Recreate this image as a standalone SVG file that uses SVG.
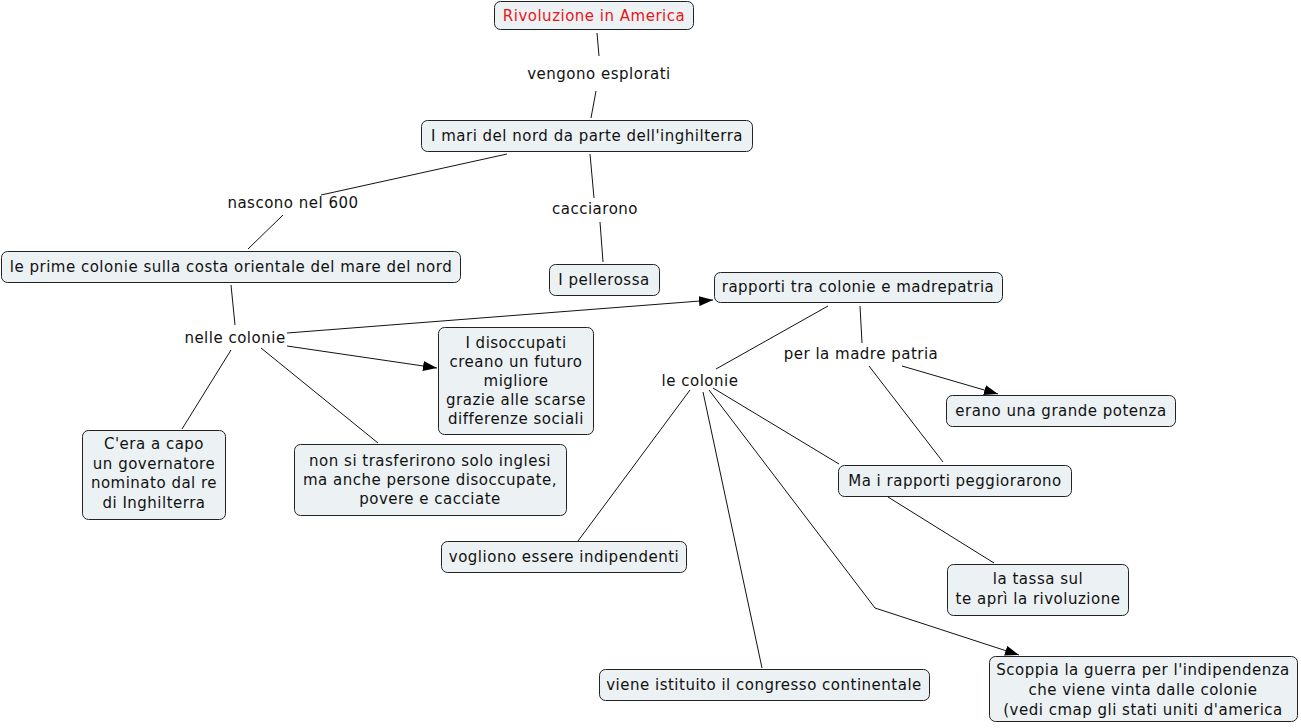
<svg xmlns="http://www.w3.org/2000/svg" width="1301" height="728" viewBox="0 0 1301 728">
<style>
.n rect{fill:#ECF2F4;stroke:#222;stroke-width:1}
text{font-family:"DejaVu Sans",Verdana,sans-serif;font-size:15px;letter-spacing:0.5px;fill:#111;text-anchor:middle}
.c line,.c polyline{stroke:#111;stroke-width:1;fill:none}
</style>
<defs>
<marker id="ah" viewBox="0 0 14 10" refX="14" refY="5" markerWidth="14" markerHeight="10" markerUnits="userSpaceOnUse" orient="auto">
<path d="M0,0 L14,5 L0,10 Z" fill="#000"/>
</marker>
</defs>
<rect width="1301" height="728" fill="#fff"/>
<g class="c" id="connectors">
<line x1="597" y1="33" x2="599" y2="56"/>
<line x1="596" y1="91" x2="591" y2="118"/>
<line x1="507" y1="154" x2="321" y2="195"/>
<line x1="283" y1="215" x2="248" y2="249"/>
<line x1="590" y1="154" x2="594" y2="198"/>
<line x1="600" y1="222" x2="603" y2="262"/>
<line x1="231" y1="285" x2="235" y2="325"/>
<line x1="287" y1="333" x2="713" y2="300" marker-end="url(#ah)"/>
<line x1="287" y1="346" x2="437" y2="368" marker-end="url(#ah)"/>
<line x1="231" y1="350" x2="182" y2="429"/>
<line x1="261" y1="348" x2="378" y2="443"/>
<line x1="828" y1="306" x2="716" y2="369"/>
<line x1="860" y1="306" x2="862" y2="343"/>
<line x1="902" y1="366" x2="998" y2="394" marker-end="url(#ah)"/>
<line x1="869" y1="366" x2="943" y2="462"/>
<line x1="690" y1="390" x2="578" y2="541"/>
<line x1="703" y1="392" x2="762" y2="668"/>
<polyline points="709,390 875,608 1019,655" marker-end="url(#ah)"/>
<line x1="713" y1="388" x2="839" y2="464"/>
<line x1="888" y1="497" x2="994" y2="563"/>
</g>
<g id="lbl-vengono"><text x="599" y="79">vengono esplorati</text></g>
<g id="lbl-nascono"><text x="293" y="208">nascono nel 600</text></g>
<g id="lbl-cacciarono"><text x="595" y="214">cacciarono</text></g>
<g id="lbl-nelle"><text x="235" y="343">nelle colonie</text></g>
<g id="lbl-lecolonie"><text x="700" y="386">le colonie</text></g>
<g id="lbl-perlamadre"><text x="861" y="359">per la madre patria</text></g>
<g class="n" id="n-rivoluzione"><rect x="494.5" y="1.5" width="199" height="28" rx="6"/><text x="594" y="21" style="fill:#E8161B">Rivoluzione in America</text></g>
<g class="n" id="n-mari"><rect x="421.5" y="120.5" width="331" height="31" rx="6"/><text x="587" y="141">I mari del nord da parte dell'inghilterra</text></g>
<g class="n" id="n-prime"><rect x="1.5" y="251.5" width="459" height="31" rx="6"/><text x="231" y="272">le prime colonie sulla costa orientale del mare del nord</text></g>
<g class="n" id="n-pellerossa"><rect x="549.5" y="264.5" width="110" height="31" rx="6"/><text x="604" y="285">I pellerossa</text></g>
<g class="n" id="n-rapporti"><rect x="714.5" y="272.5" width="288" height="30" rx="6"/><text x="858" y="292">rapporti tra colonie e madrepatria</text></g>
<g class="n" id="n-disoccupati"><rect x="438.5" y="327.5" width="155" height="107" rx="6"/><text x="516" y="348">I disoccupati</text><text x="516" y="367">creano un futuro</text><text x="516" y="386">migliore</text><text x="516" y="405">grazie alle scarse</text><text x="516" y="424">differenze sociali</text></g>
<g class="n" id="n-cera"><rect x="82.5" y="430.5" width="143" height="89" rx="6"/><text x="154" y="449">C'era a capo</text><text x="154" y="469">un governatore</text><text x="154" y="488">nominato dal re</text><text x="154" y="508">di Inghilterra</text></g>
<g class="n" id="n-nonsi"><rect x="294.5" y="444.5" width="272" height="71" rx="6"/><text x="430" y="466">non si trasferirono solo inglesi</text><text x="430" y="485">ma anche persone disoccupate,</text><text x="430" y="504">povere e cacciate</text></g>
<g class="n" id="n-erano"><rect x="946.5" y="395.5" width="229" height="31" rx="6"/><text x="1061" y="416">erano una grande potenza</text></g>
<g class="n" id="n-ma"><rect x="838.5" y="465.5" width="233" height="31" rx="6"/><text x="955" y="486">Ma i rapporti peggiorarono</text></g>
<g class="n" id="n-vogliono"><rect x="441.5" y="541.5" width="245" height="31" rx="6"/><text x="564" y="562">vogliono essere indipendenti</text></g>
<g class="n" id="n-tassa"><rect x="947.5" y="564.5" width="181" height="51" rx="6"/><text x="1038" y="584">la tassa sul</text><text x="1038" y="604">te aprì la rivoluzione</text></g>
<g class="n" id="n-congresso"><rect x="599.5" y="669.5" width="330" height="31" rx="6"/><text x="764" y="690">viene istituito il congresso continentale</text></g>
<g class="n" id="n-scoppia"><rect x="989.5" y="656.5" width="308" height="65" rx="6"/><text x="1143" y="675">Scoppia la guerra per l'indipendenza</text><text x="1143" y="695">che viene vinta dalle colonie</text><text x="1143" y="715">(vedi cmap gli stati uniti d'america</text></g>
</svg>
